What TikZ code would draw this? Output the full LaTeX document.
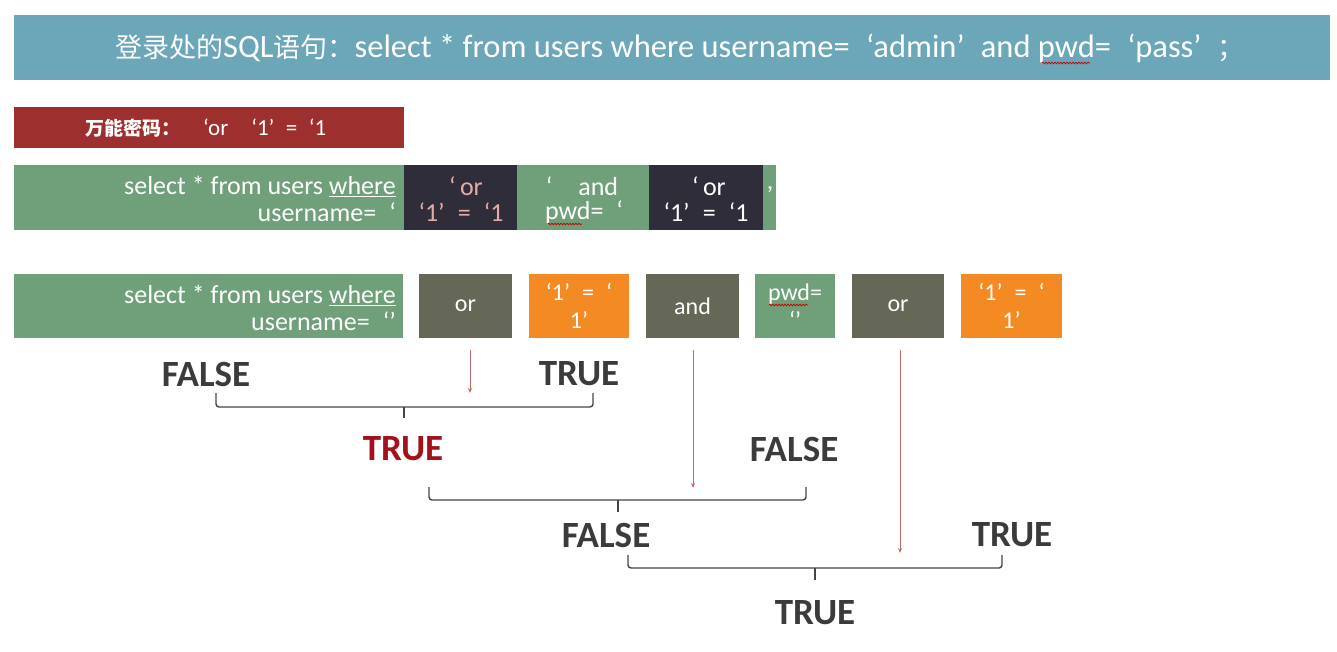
\documentclass[tikz,border=0pt]{standalone}
\usepackage{fontspec}
\setmainfont{Carlito}
\newfontfamily\cjk{Noto Sans CJK SC}
\usetikzlibrary{arrows.meta,decorations.pathmorphing}
\definecolor{teal}{HTML}{6BA6B9}
\definecolor{boxred}{HTML}{9E2F2F}
\definecolor{sqlgreen}{HTML}{6FA07A}
\definecolor{darkbox}{HTML}{2F2D3A}
\definecolor{olivebox}{HTML}{656856}
\definecolor{orangebox}{HTML}{F48A23}
\definecolor{pinktext}{HTML}{E8AAA4}
\definecolor{labeldark}{HTML}{3B3B3B}
\definecolor{labelred}{HTML}{A3121C}
\definecolor{arrowred}{HTML}{C46A6E}
\definecolor{bracegray}{HTML}{454545}
\begin{document}
\begin{tikzpicture}[x=1pt,y=-1pt,
  block/.style={anchor=north west,inner sep=0pt,outer sep=0pt,draw=none},
  wtxt/.style={text=white,font=\fontsize{26}{28}\selectfont,inner sep=0pt},
  ctxt/.style={text=white,font=\fontsize{24}{28}\selectfont,align=center,inner sep=0pt},
  bool/.style={text=labeldark,font=\bfseries\fontsize{37}{40}\selectfont,inner sep=0pt},
  bracepath/.style={draw=bracegray,line width=1.4pt,rounded corners=3pt},
  pointer/.style={draw=arrowred,line width=0.9pt,-{Stealth[length=5pt,width=4pt]}},
  squiggle/.style={draw=red!80!black,line width=0.7pt,decorate,decoration={snake,amplitude=0.9pt,segment length=3pt}}]
\useasboundingbox (0,0) rectangle (1337,652);

% header
\node[block,fill=teal,minimum width=1316pt,minimum height=65pt] (head) at (14,15) {};
\node[text=white,font=\fontsize{32.5}{34}\selectfont,inner sep=0pt] (headtxt) at (680,48)
  {{\cjk\fontsize{27}{29}\selectfont 登录处的}SQL{\cjk\fontsize{27}{29}\selectfont 语句：}select * from users where username=\enspace‘admin’\enspace and pwd=\enspace‘pass’\enspace{\cjk\fontsize{27}{29}\selectfont ；}};
\draw[squiggle] (1042,63) -- (1090,63);

% magic password
\node[block,fill=boxred,minimum width=390pt,minimum height=41pt] (magic) at (14,107) {};
\node[text=white,font=\fontsize{23}{25}\selectfont,inner sep=0pt,anchor=west] (magictxt) at (85,128)
  {{\cjk\bfseries\fontsize{19}{22}\selectfont 万能密码：}\quad ‘or\quad ‘1’\enspace =\enspace ‘1};

% row 2
\node[block,fill=sqlgreen,minimum width=762pt,minimum height=65pt] (row2) at (14,165) {};
\node[block,fill=darkbox,minimum width=113pt,minimum height=65pt] (inj1) at (404,165) {};
\node[block,fill=darkbox,minimum width=114pt,minimum height=65pt] (inj2) at (649,165) {};
\node[wtxt,anchor=east] (r2a) at (396,186) {select * from users \underline{where}};
\node[wtxt,anchor=east] (r2b) at (396,212) {username=\enspace ‘};
\node[wtxt,text=pinktext] (i1a) at (466,186) {‘\,or};
\node[wtxt,text=pinktext] (i1b) at (461,212) {‘1’\; =\; ‘1};
\node[wtxt] (m2a) at (582,186) {‘\quad and};
\node[wtxt] (m2b) at (584,212) {pwd=\enspace ‘};
\draw[squiggle] (548,224) -- (582,224);
\node[wtxt] (i2a) at (709,186) {‘\,or};
\node[wtxt] (i2b) at (706,212) {‘1’\; =\; ‘1};
\node[wtxt] (comma) at (770,190) {,};

% row 3
\node[block,fill=sqlgreen,minimum width=389pt,minimum height=64pt] (row3) at (14,274) {};
\node[wtxt,anchor=east] (r3a) at (396,295) {select * from users \underline{where}};
\node[wtxt,anchor=east] (r3b) at (396,321) {username=\enspace ‘’};
\node[block,fill=olivebox,minimum width=93pt,minimum height=64pt] (or1) at (419,274) {};
\node[ctxt] at (or1.center) {or};
\node[block,fill=orangebox,minimum width=100pt,minimum height=64pt] (eq1) at (529,274) {};
\node[ctxt] at (eq1.center) {‘1’\; =\; ‘\\1’};
\node[block,fill=olivebox,minimum width=93pt,minimum height=64pt] (and1) at (646,274) {};
\node[ctxt] at (and1.center) {and};
\node[block,fill=sqlgreen,minimum width=80pt,minimum height=64pt] (pwd) at (755,274) {};
\node[ctxt] at (pwd.center) {pwd=\\‘’};
\draw[squiggle] (769,305) -- (808,305);
\node[block,fill=olivebox,minimum width=92pt,minimum height=64pt] (or2) at (852,274) {};
\node[ctxt] at (or2.center) {or};
\node[block,fill=orangebox,minimum width=101pt,minimum height=64pt] (eq2) at (961,274) {};
\node[ctxt] at (eq2.center) {‘1’\; =\; ‘\\1’};

% evaluation labels
\node[bool] (f1) at (206,374) {FALSE};
\node[bool] (t1) at (579,374) {TRUE};
\node[bool,text=labelred] (t2) at (403,449) {TRUE};
\node[bool] (f2) at (794,449) {FALSE};
\node[bool] (f3) at (606,535) {FALSE};
\node[bool] (t3) at (1012,535) {TRUE};
\node[bool] (t4) at (815,613) {TRUE};

% pointers
\coordinate (p1s) at (470,350); \coordinate (p1e) at (470,393);
\coordinate (p2s) at (693,350); \coordinate (p2e) at (693,488);
\coordinate (p3s) at (900,350); \coordinate (p3e) at (900,553);
\draw[pointer] (p1s) -- (p1e);
\draw[pointer] (p2s) -- (p2e);
\draw[pointer] (p3s) -- (p3e);

% braces
\draw[bracepath] (216,393) |- (404,407) -| (593,393);
\draw[draw=bracegray,line width=1.4pt] (404,407) -- (404,418);
\draw[bracepath] (429,487) |- (618,500) -| (806,487);
\draw[draw=bracegray,line width=1.4pt] (618,500) -- (618,512);
\draw[bracepath] (628,555) |- (815,568) -| (1002,555);
\draw[draw=bracegray,line width=1.4pt] (815,568) -- (815,580);
\end{tikzpicture}
\end{document}
